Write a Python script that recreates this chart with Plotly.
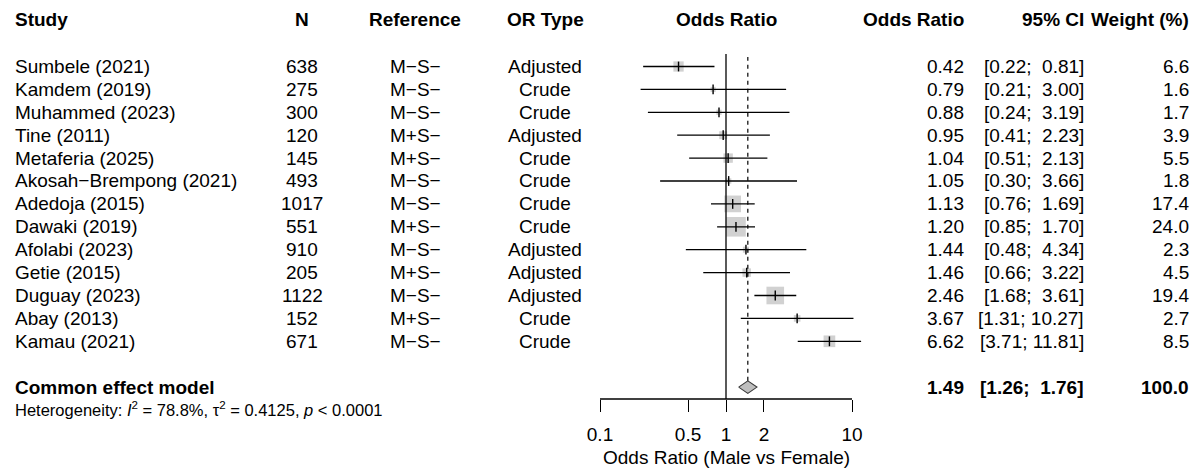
import numpy as np
import plotly.graph_objects as go

# ---------------- data ----------------
studies = ["Sumbele (2021)", "Kamdem (2019)", "Muhammed (2023)", "Tine (2011)",
           "Metaferia (2025)", "Akosah\u2212Brempong (2021)", "Adedoja (2015)",
           "Dawaki (2019)", "Afolabi (2023)", "Getie (2015)", "Duguay (2023)",
           "Abay (2013)", "Kamau (2021)"]
n_total = [638, 275, 300, 120, 145, 493, 1017, 551, 910, 205, 1122, 152, 671]
reference = ["M\u2212S\u2212", "M\u2212S\u2212", "M\u2212S\u2212", "M+S\u2212", "M+S\u2212",
             "M\u2212S\u2212", "M\u2212S\u2212", "M+S\u2212", "M\u2212S\u2212", "M+S\u2212",
             "M\u2212S\u2212", "M+S\u2212", "M\u2212S\u2212"]
or_type = ["Adjusted", "Crude", "Crude", "Adjusted", "Crude", "Crude", "Crude",
           "Crude", "Adjusted", "Adjusted", "Adjusted", "Crude", "Crude"]
odds_ratio = [0.42, 0.79, 0.88, 0.95, 1.04, 1.05, 1.13, 1.20, 1.44, 1.46, 2.46, 3.67, 6.62]
ci_lower = [0.22, 0.21, 0.24, 0.41, 0.51, 0.30, 0.76, 0.85, 0.48, 0.66, 1.68, 1.31, 3.71]
ci_upper = [0.81, 3.00, 3.19, 2.23, 2.13, 3.66, 1.69, 1.70, 4.34, 3.22, 3.61, 10.27, 11.81]
weight = [6.6, 1.6, 1.7, 3.9, 5.5, 1.8, 17.4, 24.0, 2.3, 4.5, 19.4, 2.7, 8.5]

pooled_label = "Common effect model"
pooled_or = 1.49
pooled_lower = 1.26
pooled_upper = 1.76
pooled_weight = 100.0
het_text = ("Heterogeneity: <i>I</i><sup>2</sup> = 78.8%, \u03c4<sup>2</sup> = 0.4125, "
            "<i>p</i> &lt; 0.0001")

tick_vals = [0.1, 0.5, 1, 2, 10]
tick_text = ["0.1", "0.5", "1", "2", "10"]
x_title = "Odds Ratio (Male vs Female)"
headers = ["Study", "N", "Reference", "OR Type", "Odds Ratio", "Odds Ratio", "95% CI", "Weight (%)"]

# ---------------- layout geometry ----------------
W, H = 1198, 468
FONT = "Liberation Sans, Arial, Helvetica, sans-serif"
FS = 19
ROW0_PX = 66.5      # pixel y of first study row
ROW_PX = 22.9       # row spacing
AXIS_PX = 399       # pixel y of x-axis line
HEADER_PX = 20
X1_PX = 726         # pixel x of OR = 1
DEC_PX = 126        # pixels per decade
XR = [-1.1, 1.1]

def row_px(r):
    return ROW0_PX + r * ROW_PX

def pyp(pix):
    return 1 - pix / H

def pxp(pix):
    return pix / W

k = len(studies)
rows = list(range(k))
pooled_row = k + 1
het_row = k + 2

y_top_row = (0 - ROW0_PX) / ROW_PX
y_bot_row = (AXIS_PX - ROW0_PX) / ROW_PX

fig = go.Figure()

# CI lines
lx, ly = [], []
for r, lo, hi in zip(rows, ci_lower, ci_upper):
    lx += [lo, hi, None]
    ly += [r, r, None]

# boxes (area proportional to weight)
fig.add_trace(go.Scatter(
    x=odds_ratio, y=rows, mode="markers",
    marker=dict(symbol="square", size=[4.0 * np.sqrt(w) for w in weight],
                color="#bebebe", line=dict(width=0)),
    hoverinfo="skip", showlegend=False, cliponaxis=False))
fig.add_trace(go.Scatter(
    x=lx, y=ly, mode="lines", line=dict(color="black", width=1.3),
    hoverinfo="skip", showlegend=False))
# point-estimate ticks
fig.add_trace(go.Scatter(
    x=odds_ratio, y=rows, mode="markers",
    marker=dict(symbol="line-ns", size=7, line=dict(color="black", width=1.4)),
    hoverinfo="skip", showlegend=False, cliponaxis=False))

# diamond
dh = 6.3 / ROW_PX
fig.add_trace(go.Scatter(
    x=[pooled_lower, pooled_or, pooled_upper, pooled_or, pooled_lower],
    y=[pooled_row, pooled_row - dh, pooled_row, pooled_row + dh, pooled_row],
    mode="lines", fill="toself", fillcolor="#bebebe",
    line=dict(color="#3a3a3a", width=1.1),
    hoverinfo="skip", showlegend=False))

# axis line (0.1 to 10) and reference lines
fig.add_shape(type="line", xref="x", yref="paper",
              x0=tick_vals[0], x1=tick_vals[-1], y0=pyp(AXIS_PX), y1=pyp(AXIS_PX),
              line=dict(color="black", width=1.3))
fig.add_shape(type="line", xref="x", yref="paper",
              x0=1, x1=1, y0=pyp(AXIS_PX), y1=pyp(54),
              line=dict(color="black", width=1.3))
fig.add_shape(type="line", xref="x", yref="paper",
              x0=pooled_or, x1=pooled_or, y0=pyp(row_px(pooled_row) - 6.3), y1=pyp(57),
              line=dict(color="black", width=1.2, dash="4px,4px"))

ann = []

def add_text(txt, xpix, ypix, anchor, bold=False, size=FS):
    if bold:
        txt = "<b>" + txt + "</b>"
    ann.append(dict(text=txt, x=pxp(xpix), y=pyp(ypix), xref="paper", yref="paper",
                    xanchor=anchor, yanchor="middle", showarrow=False,
                    font=dict(family=FONT, size=size, color="black")))

# column positions
STUDY_X = 13
N_X = 302
REF_X = 415
TYPE_X = 545
ORH_X = X1_PX
OR_X = 966
CI_X = 1086
W_X = 1191

add_text(headers[0], STUDY_X, HEADER_PX, "left", True)
add_text(headers[1], N_X, HEADER_PX, "center", True)
add_text(headers[2], REF_X, HEADER_PX, "center", True)
add_text(headers[3], TYPE_X, HEADER_PX, "center", True)
add_text(headers[4], ORH_X, HEADER_PX, "center", True)
add_text(headers[5], OR_X, HEADER_PX, "right", True)
add_text(headers[6], CI_X, HEADER_PX, "right", True)
add_text(headers[7], W_X, HEADER_PX, "right", True)

def fmt_ci(lo, hi):
    s = "[{:.2f}; {:>5.2f}]".format(lo, hi)
    return s.replace("  ", " \u00a0")

for r, s, nn, rf, t, o, lo, hi, w in zip(rows, studies, n_total, reference, or_type,
                                         odds_ratio, ci_lower, ci_upper, weight):
    yp = row_px(r)
    add_text(s, STUDY_X, yp, "left")
    add_text(str(nn), N_X, yp, "center")
    add_text(rf, REF_X, yp, "center")
    add_text(t, TYPE_X, yp, "center")
    add_text("{:.2f}".format(o), OR_X, yp, "right")
    add_text(fmt_ci(lo, hi), CI_X, yp, "right")
    add_text("{:.1f}".format(w), W_X, yp, "right")

yp = row_px(pooled_row)
add_text(pooled_label, STUDY_X, yp, "left", True)
add_text("{:.2f}".format(pooled_or), OR_X, yp, "right", True)
add_text(fmt_ci(pooled_lower, pooled_upper), CI_X, yp, "right", True)
add_text("{:.1f}".format(pooled_weight), W_X, yp, "right", True)
add_text(het_text, STUDY_X, row_px(het_row) - 1, "left", size=16.5)

add_text(x_title, X1_PX, 457, "center")

fig.update_layout(
    width=W, height=H,
    margin=dict(l=0, r=0, t=0, b=0),
    paper_bgcolor="white", plot_bgcolor="white",
    font=dict(family=FONT, size=FS, color="black"),
    annotations=ann,
    xaxis=dict(type="log", range=XR,
               domain=[pxp(X1_PX + XR[0] * DEC_PX), pxp(X1_PX + XR[1] * DEC_PX)],
               tickvals=tick_vals, ticktext=tick_text, ticks="outside", ticklen=12,
               tickwidth=1.3, tickcolor="black", showline=False, showgrid=False,
               zeroline=False, tickfont=dict(family=FONT, size=FS, color="black"),
               ticklabelstandoff=6, anchor="y"),
    yaxis=dict(range=[y_bot_row, y_top_row], domain=[pyp(AXIS_PX), 1],
               visible=False, showgrid=False, zeroline=False),
    showlegend=False,
)

fig.write_html("out.html")
